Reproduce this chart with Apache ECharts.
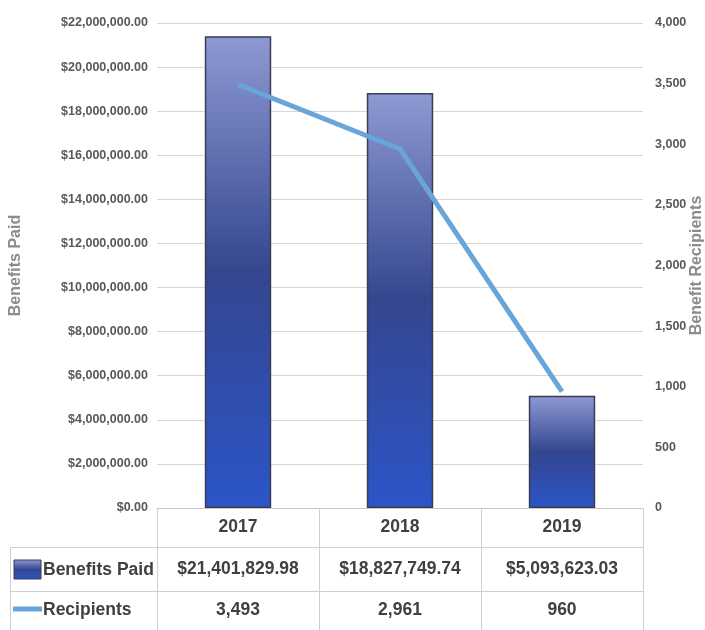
<!DOCTYPE html>
<html>
<head>
<meta charset="utf-8">
<script src="https://cdn.jsdelivr.net/npm/echarts@6/dist/echarts.min.js"></script>
<style>
html,body{margin:0;padding:0;background:#fff;}
#c{width:705px;height:630px;}
</style>
</head>
<body>
<div id="c"></div>
<script>
var categories = ['2017', '2018', '2019'];
var benefitsPaid = [21401829.98, 18827749.74, 5093623.03];
var recipients = [3493, 2961, 960];
var seriesNames = ['Benefits Paid', 'Recipients'];
var axisNames = ['Benefits Paid', 'Benefit Recipients'];

var FONT = "'Liberation Sans', Arial, sans-serif";
var LINE_COLOR = '#68a5d8';
var TEXT_DARK = '#404040';
var GRID = { left: 157, right: 62, top: 23, bottom: 122 };

function money(v) {
  return '$' + v.toLocaleString('en-US', { minimumFractionDigits: 2, maximumFractionDigits: 2 });
}
function count(v) { return v.toLocaleString('en-US'); }

var barGradient = new echarts.graphic.LinearGradient(0, 0, 0, 1, [
  { offset: 0, color: '#8f99d3' },
  { offset: 0.5, color: '#34468f' },
  { offset: 1, color: '#2c55c8' }
]);

var chart = echarts.init(document.getElementById('c'), null, { renderer: 'canvas' });

var option = {
  animation: false,
  backgroundColor: '#fff',
  grid: { left: GRID.left, right: GRID.right, top: GRID.top, bottom: GRID.bottom, containLabel: false, outerBoundsMode: 'none' },
  xAxis: {
    type: 'category',
    data: categories,
    axisLine: { show: true, lineStyle: { color: '#c8c8c8', width: 1 } },
    axisTick: { show: false },
    axisLabel: {
      margin: 0,
      interval: 0,
      fontFamily: FONT,
      formatter: function (v, i) {
        return '{h|' + v + '}\n{b|' + money(benefitsPaid[i]) + '}\n{r|' + count(recipients[i]) + '}';
      },
      rich: {
        h: { fontSize: 17.5, fontWeight: 'bold', color: TEXT_DARK, lineHeight: 39, fontFamily: FONT },
        b: { fontSize: 17.5, fontWeight: 'bold', color: TEXT_DARK, lineHeight: 44, fontFamily: FONT },
        r: { fontSize: 17.5, fontWeight: 'bold', color: TEXT_DARK, lineHeight: 38, fontFamily: FONT }
      }
    }
  },
  yAxis: [
    {
      type: 'value',
      min: 0, max: 22000000, interval: 2000000,
      name: axisNames[0],
      nameLocation: 'middle',
      nameGap: 133,
      nameRotate: 90,
      nameMoveOverlap: false,
      nameTextStyle: { fontFamily: FONT, fontWeight: 'bold', fontSize: 16, color: '#8c8c8c' },
      axisLine: { show: false },
      axisTick: { show: false },
      splitLine: { show: true, lineStyle: { color: '#d6d6d6', width: 1 } },
      axisLabel: {
        margin: 9,
        fontFamily: FONT, fontWeight: 'bold', fontSize: 12.5, color: '#585858',
        formatter: function (v) { return money(v); }
      }
    },
    {
      type: 'value',
      min: 0, max: 4000, interval: 500,
      name: axisNames[1],
      nameLocation: 'middle',
      nameGap: 46,
      nameRotate: 90,
      nameMoveOverlap: false,
      nameTextStyle: { fontFamily: FONT, fontWeight: 'bold', fontSize: 16, color: '#8c8c8c' },
      axisLine: { show: false },
      axisTick: { show: false },
      splitLine: { show: false },
      axisLabel: {
        margin: 12,
        fontFamily: FONT, fontWeight: 'bold', fontSize: 12.5, color: '#585858',
        formatter: function (v) { return count(v); }
      }
    }
  ],
  series: [
    {
      name: seriesNames[0],
      type: 'bar',
      yAxisIndex: 0,
      data: benefitsPaid,
      barWidth: '41%',
      itemStyle: { color: barGradient, borderColor: '#3a3d52', borderWidth: 1.5 },
      z: 2
    },
    {
      name: seriesNames[1],
      type: 'line',
      yAxisIndex: 1,
      data: recipients,
      symbol: 'none',
      lineStyle: { color: LINE_COLOR, width: 5 },
      z: 3
    }
  ]
};
chart.setOption(option);

// Data-table grid lines and legend keys below the plot
(function () {
  var W = 705, H = 630;
  var x0 = GRID.left, x1 = W - GRID.right;
  var yAxisBottom = H - GRID.bottom;
  var row1 = yAxisBottom + 39, row2 = row1 + 44;
  var tableLeft = 10;
  var lc = '#cfcfcf';
  var els = [];
  function line(ax, ay, bx, by) {
    els.push({ type: 'line', shape: { x1: ax, y1: ay, x2: bx, y2: by }, style: { stroke: lc, lineWidth: 1 }, silent: true });
  }
  var n = categories.length;
  for (var i = 0; i <= n; i++) {
    var x = x0 + (x1 - x0) * i / n;
    line(Math.round(x) + 0.5, yAxisBottom, Math.round(x) + 0.5, H);
  }
  line(tableLeft + 0.5, row1, tableLeft + 0.5, H);
  line(tableLeft, row1 + 0.5, x1, row1 + 0.5);
  line(tableLeft, row2 + 0.5, x1, row2 + 0.5);
  els.push({ type: 'rect', shape: { x: 14, y: row1 + 13, width: 27, height: 19 },
    style: { fill: barGradient, stroke: '#3a3d52', lineWidth: 1 }, silent: true });
  els.push({ type: 'text', x: 43, y: row1 + 23, style: { text: seriesNames[0], fontFamily: FONT, fontWeight: 'bold', fontSize: 17.5, fill: TEXT_DARK, verticalAlign: 'middle' }, silent: true });
  els.push({ type: 'line', shape: { x1: 13, y1: row2 + 18, x2: 42, y2: row2 + 18 },
    style: { stroke: LINE_COLOR, lineWidth: 5 }, silent: true });
  els.push({ type: 'text', x: 43, y: row2 + 19, style: { text: seriesNames[1], fontFamily: FONT, fontWeight: 'bold', fontSize: 17.5, fill: TEXT_DARK, verticalAlign: 'middle' }, silent: true });
  chart.setOption({ graphic: { elements: els } });
})();
</script>
</body>
</html>
